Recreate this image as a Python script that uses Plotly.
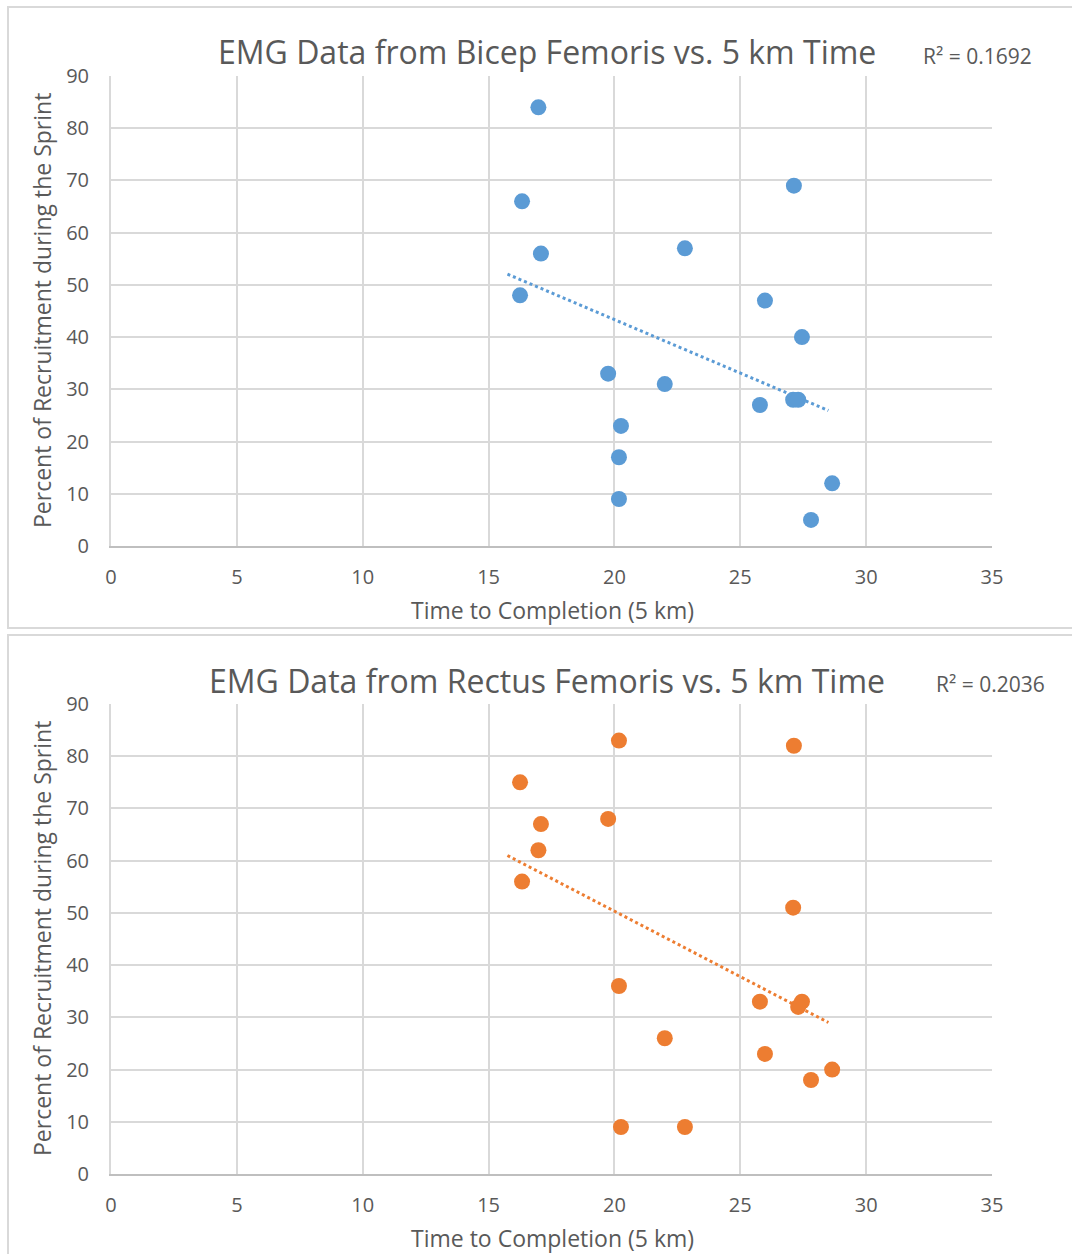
import numpy as np
import plotly.graph_objects as go

# ---- data ----
time_5km = [16.98, 16.33, 17.08, 16.25, 19.75, 22.0, 20.26, 20.18, 20.18,
            22.8, 27.13, 25.98, 27.45, 25.78, 27.1, 27.3, 28.65, 27.81]
bicep_femoris = [84, 66, 56, 48, 33, 31, 23, 17, 9,
                 57, 69, 47, 40, 27, 28, 28, 12, 5]
rectus_femoris = [62, 56, 67, 75, 68, 26, 9, 83, 36,
                  9, 82, 23, 33, 33, 51, 32, 20, 18]
trend_span = [15.75, 28.5]
titles = ["EMG Data from Bicep Femoris vs. 5 km Time",
          "EMG Data from Rectus Femoris vs. 5 km Time"]
r2_labels = ["R² = 0.1692", "R² = 0.2036"]
x_title = "Time to Completion (5 km)"
y_title = "Percent of Recruitment during the Sprint"
x_ticks = [0, 5, 10, 15, 20, 25, 30, 35]
y_ticks = [0, 10, 20, 30, 40, 50, 60, 70, 80, 90]
colors = ["#5B9BD5", "#ED7D31"]

W, H = 1072, 1254
def py(px):  # pixel row -> paper y
    return 1 - px / H
def pxx(px):
    return px / W

fig = go.Figure()
panels = [
    dict(series=bicep_femoris, xa="x", ya="y", top=76, bot=546, box=(7, 628),
         title_y=52, r2=(977, 56), xt_y=610, yt_y=311),
    dict(series=rectus_femoris, xa="x2", ya="y2", top=704, bot=1174, box=(635, 1262),
         title_y=680, r2=(990, 684), xt_y=1238, yt_y=939),
]

grid = "#D9D9D9"
txt = "#595959"
font_tick = dict(family="Open Sans", size=20, color=txt)

for i, p in enumerate(panels):
    t = np.array(time_5km)
    v = np.array(p["series"])
    m, b = np.polyfit(t, v, 1)
    tx = np.array(trend_span)
    fig.add_trace(go.Scatter(x=tx, y=m * tx + b, mode="lines",
                             line=dict(color=colors[i], width=3, dash="dot"),
                             xaxis=p["xa"], yaxis=p["ya"], hoverinfo="skip",
                             showlegend=False))
    fig.add_trace(go.Scatter(x=time_5km, y=p["series"], mode="markers",
                             marker=dict(color=colors[i], size=16, line=dict(width=0)),
                             xaxis=p["xa"], yaxis=p["ya"], showlegend=False))
    # panel border
    fig.add_shape(type="rect", xref="paper", yref="paper",
                  x0=pxx(8), x1=pxx(1090), y0=py(p["box"][1]), y1=py(p["box"][0]),
                  line=dict(color="#D9D9D9", width=2), layer="below")
    fig.add_annotation(text=titles[i], xref="paper", yref="paper",
                       x=pxx(547), y=py(p["title_y"]), xanchor="center", yanchor="middle",
                       showarrow=False,
                       font=dict(family="Open Sans", size=32, color=txt))
    fig.add_annotation(text=r2_labels[i], xref="paper", yref="paper",
                       x=pxx(p["r2"][0]), y=py(p["r2"][1]), xanchor="center", yanchor="middle",
                       showarrow=False,
                       font=dict(family="Open Sans", size=21, color=txt))
    fig.add_annotation(text=x_title, xref="paper", yref="paper",
                       x=pxx(552), y=py(p["xt_y"]), xanchor="center", yanchor="middle",
                       showarrow=False,
                       font=dict(family="Open Sans", size=23, color=txt))
    fig.add_annotation(text=y_title, xref="paper", yref="paper",
                       x=pxx(42), y=py(p["yt_y"]), xanchor="center", yanchor="middle",
                       textangle=-90, showarrow=False,
                       font=dict(family="Open Sans", size=23, color=txt))
    xname = "xaxis" if i == 0 else "xaxis2"
    yname = "yaxis" if i == 0 else "yaxis2"
    fig.layout[xname] = dict(domain=[pxx(111), pxx(992)], range=[0, 35],
                             tickvals=x_ticks, showgrid=True, gridcolor=grid, gridwidth=2,
                             zeroline=False, showline=True, linecolor="#BFBFBF", linewidth=2,
                             ticks="", ticklabelstandoff=12, tickfont=font_tick,
                             automargin=False,
                             anchor="y" if i == 0 else "y2", fixedrange=True)
    fig.layout[yname] = dict(domain=[py(p["bot"]), py(p["top"])], range=[0, 90],
                             tickvals=y_ticks, showgrid=True, gridcolor=grid, gridwidth=2,
                             zeroline=False, showline=True, linecolor=grid, linewidth=2,
                             ticks="", ticklabelstandoff=16, tickfont=font_tick,
                             automargin=False,
                             anchor="x" if i == 0 else "x2", fixedrange=True)

fig.update_layout(width=W, height=H, margin=dict(l=0, r=0, t=0, b=0, autoexpand=False),
                  template="none",
                  paper_bgcolor="white", plot_bgcolor="white", showlegend=False)
fig.write_html("out.html")
